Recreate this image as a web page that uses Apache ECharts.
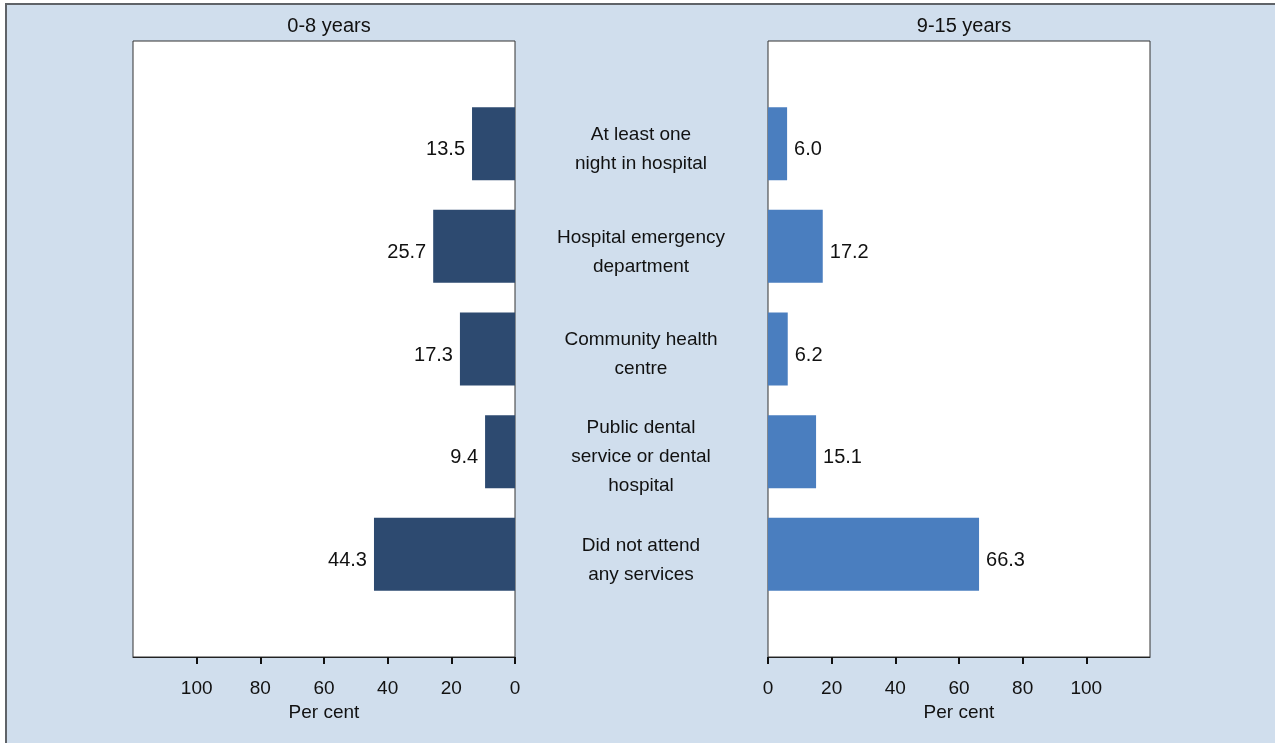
<!DOCTYPE html>
<html>
<head>
<meta charset="utf-8">
<script src="https://cdn.jsdelivr.net/npm/echarts@6/dist/echarts.min.js"></script>
<style>
html,body{margin:0;padding:0;background:#fff;overflow:hidden;}
#bg{position:absolute;left:5px;top:3px;width:1300px;height:800px;border-left:2px solid #5f6368;border-top:2px solid #5f6368;background:#d0deed;}
#chart{position:absolute;left:0;top:0;width:1275px;height:743px;}
</style>
</head>
<body>
<div id="bg"></div>
<div id="chart"></div>
<script>
const categories = ['', 'At least one\nnight in hospital', 'Hospital emergency\ndepartment', 'Community health\ncentre', 'Public dental\nservice or dental\nhospital', 'Did not attend\nany services', ''];
const young = [null, 13.5, 25.7, 17.3, 9.4, 44.3, null];
const older = [null, 6.0, 17.2, 6.2, 15.1, 66.3, null];
const tickValues = [0, 20, 40, 60, 80, 100];
const panelTitles = ['0-8 years', '9-15 years'];
const axisName = 'Per cent';

const FONT = 'Liberation Sans, Arial, sans-serif';
const chart = echarts.init(document.getElementById('chart'), null, {renderer: 'canvas'});

function xAxis(gridIndex, inverse) {
  return {
    type: 'value', gridIndex: gridIndex, inverse: inverse, min: 0, max: 120, interval: 20,
    position: 'bottom',
    name: axisName, nameLocation: 'middle', nameGap: 40,
    nameTextStyle: {fontFamily: FONT, fontSize: 19, color: '#111'},
    axisLine: {show: true, lineStyle: {color: '#222', width: 1}},
    axisTick: {show: true, inside: false, length: 7, customValues: tickValues, lineStyle: {color: '#111', width: 2}},
    axisLabel: {show: true, margin: 22, customValues: tickValues, fontFamily: FONT, fontSize: 19, color: '#111'},
    splitLine: {show: false}
  };
}
function yAxis(gridIndex, showLabels) {
  return {
    type: 'category', gridIndex: gridIndex, data: categories, inverse: true, boundaryGap: false,
    position: 'left',
    axisLine: {show: false}, axisTick: {show: false}, splitLine: {show: false},
    axisLabel: {show: showLabels, align: 'center', margin: 127, interval: 0,
      formatter: v => v ? '{s| }\n' + v.split('\n').map(l => '{t|' + l + '}').join('\n') : '',
      rich: {
        s: {fontSize: 1, lineHeight: 11},
        t: {fontFamily: FONT, fontSize: 19, lineHeight: 29, color: '#111', align: 'center'}
      }}
  };
}

chart.setOption({
  backgroundColor: 'transparent',
  animation: false,
  title: [
    {text: panelTitles[0], left: 324, top: 11, textAlign: 'center',
     textStyle: {fontFamily: FONT, fontSize: 20, fontWeight: 'normal', color: '#111'}},
    {text: panelTitles[1], left: 959, top: 11, textAlign: 'center',
     textStyle: {fontFamily: FONT, fontSize: 20, fontWeight: 'normal', color: '#111'}}
  ],
  grid: [
    {left: 133, width: 382, top: 41, bottom: 86, show: true, backgroundColor: '#fff', borderColor: '#333', borderWidth: 1},
    {left: 768, width: 382, top: 41, bottom: 86, show: true, backgroundColor: '#fff', borderColor: '#333', borderWidth: 1}
  ],
  xAxis: [xAxis(0, true), xAxis(1, false)],
  yAxis: [yAxis(0, false), yAxis(1, true)],
  series: [
    {type: 'bar', xAxisIndex: 0, yAxisIndex: 0, data: young, barWidth: 73,
     itemStyle: {color: '#2d4a70'},
     label: {show: true, position: 'left', distance: 7, offset: [0, 6], fontFamily: FONT, fontSize: 20, color: '#111',
       formatter: p => p.value == null ? '' : p.value.toFixed(1)}},
    {type: 'bar', xAxisIndex: 1, yAxisIndex: 1, data: older, barWidth: 73,
     itemStyle: {color: '#4a7ebf'},
     label: {show: true, position: 'right', distance: 7, offset: [0, 6], fontFamily: FONT, fontSize: 20, color: '#111',
       formatter: p => p.value == null ? '' : p.value.toFixed(1)}}
  ]
});
</script>
</body>
</html>
